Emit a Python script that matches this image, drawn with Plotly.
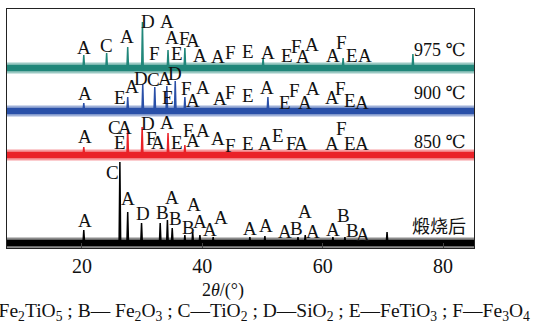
import plotly.graph_objects as go

# ---------------- data ----------------
x_range = [7.54, 85.15]
x_ticks = [20, 40, 60, 80]

series_names = ["975 ℃", "900 ℃", "850 ℃", "煅烧后"]

# peak positions (2θ, °) and peak heights above background (relative units)
peaks_975_pos = [20.3, 24.1, 27.6, 30.05, 34.3, 37.1, 50.1, 63.4, 75.0]
peaks_975_h = [13, 15, 21, 46, 18, 20, 10, 10, 14]

peaks_900_pos = [20.3, 27.6, 30.1, 32.1, 34.1, 35.5, 37.1, 50.9]
peaks_900_h = [8, 14, 27, 24, 25, 30, 14, 14]

peaks_850_pos = [20.3, 27.6, 30.0, 34.3, 37.1]
peaks_850_h = [8, 26, 28, 22, 10]

peaks_calc_pos = [20.3, 26.3, 27.6, 29.9, 33.0, 34.2, 35.0, 37.1, 38.4, 39.6,
                  41.8, 47.9, 50.4, 55.9, 57.1, 61.7, 63.7, 70.7]
peaks_calc_h = [13, 81, 31, 20, 20, 23, 15, 8, 11, 8,
                6, 6, 7, 6, 8, 6, 6, 11]

# phase labels: letter, 2θ, height level
lab_975_txt = ["A", "C", "A", "D", "A", "F", "A", "E", "F", "A", "A", "A", "F", "E", "A",
               "E", "F", "A", "A", "A", "F", "E", "A"]
lab_975_x = [20.33, 24.15, 27.48, 30.97, 34.13, 32.13, 34.96, 35.79, 37.12, 38.45, 39.61, 42.60, 44.60,
             47.59, 50.91, 54.07, 55.73, 56.73, 58.22, 61.71, 63.21, 64.87, 67.03]
lab_975_y = [201, 203, 212, 227, 227, 195, 211, 195, 210, 208, 193, 192, 196,
             197, 196, 193, 202, 192, 204, 193, 206, 193, 193]

lab_900_txt = ["A", "E", "A", "D", "C", "A", "D", "E", "F", "A", "A", "A", "F", "E", "A",
               "E", "F", "A", "A", "A", "F", "E", "A"]
lab_900_x = [20.5, 26.32, 28.31, 29.8, 31.95, 33.8, 35.4, 34.29, 37.45, 38.45, 40.11, 42.94, 44.60,
             47.59, 50.75, 53.74, 55.40, 57.06, 58.39, 61.55, 62.88, 64.54, 66.54]
lab_900_y = [155, 151, 162, 170, 169, 170, 175, 151, 160, 148, 161, 150, 156,
             153, 161, 146, 158, 146, 160, 151, 160, 148, 146]

lab_850_txt = ["A", "C", "A", "E", "D", "A", "F", "A", "E", "F", "A", "A", "A", "F", "E", "A",
               "E", "F", "A", "A", "F", "E", "A"]
lab_850_x = [20.5, 25.48, 27.15, 26.32, 30.97, 34.13, 31.63, 32.63, 35.79, 37.62, 38.45, 40.11, 42.60,
             44.60, 47.59, 50.41, 52.57, 54.90, 56.4, 61.55, 63.21, 64.54, 66.54]
lab_850_y = [112, 121, 121, 106, 125, 126, 110, 106, 106, 118, 108, 118, 110,
             103, 105, 105, 113, 105, 105, 105, 120, 105, 105]

lab_calc_txt = ["A", "C", "A", "D", "B", "A", "B", "B", "A", "A", "A", "A",
                "A", "A", "A", "B", "A", "A", "A", "B", "B", "A"]
lab_calc_x = [20.5, 24.99, 27.64, 30.14, 33.30, 34.96, 35.46, 37.62, 38.61, 39.61, 41.27, 43.10,
              47.92, 50.58, 53.74, 55.73, 57.06, 58.39, 61.71, 63.54, 65.04, 66.70]
lab_calc_y = [28, 76, 50, 35, 36, 51, 30, 21, 44, 27, 19, 31,
              20, 23, 17, 20, 37, 17, 19, 33, 18, 14]

# ---------------- styling ----------------
colors = ["#21877a", "#2a50a8", "#ea2228", "#000000"]
baselines = [180, 137, 93, 5]          # vertical offsets of the stacked patterns
name_label_y = [198, 155, 106, 23]
FONT = "Liberation Serif, DejaVu Serif, serif"
CJK_FONT = "Noto Sans CJK SC"

all_pos = [peaks_975_pos, peaks_900_pos, peaks_850_pos, peaks_calc_pos]
all_h = [peaks_975_h, peaks_900_h, peaks_850_h, peaks_calc_h]
all_lab = [(lab_975_txt, lab_975_x, lab_975_y), (lab_900_txt, lab_900_x, lab_900_y),
           (lab_850_txt, lab_850_x, lab_850_y), (lab_calc_txt, lab_calc_x, lab_calc_y)]

fig = go.Figure()
half_w = 0.13
for pos, hts, base, col in zip(all_pos, all_h, baselines, colors):
    # background band (noisy baseline)
    for hw, op in [(5.5, 0.45), (3.2, 1.0)]:
        fig.add_trace(go.Scatter(
            x=[x_range[0], x_range[1], x_range[1], x_range[0], x_range[0]],
            y=[base - hw, base - hw, base + hw, base + hw, base - hw],
            mode="lines", fill="toself", fillcolor=col, opacity=op,
            line=dict(width=0, color=col), hoverinfo="skip", showlegend=False))
    xs, ys = [x_range[0]], [base]
    for p, h in sorted(zip(pos, hts)):
        xs += [p - half_w, p, p + half_w]
        ys += [base, base + h, base]
    xs.append(x_range[1]); ys.append(base)
    fig.add_trace(go.Scatter(x=xs, y=ys, mode="lines",
                             line=dict(color=col, width=1.5), showlegend=False))

annotations = []
for txt, lx, ly in all_lab:
    for t, x, y in zip(txt, lx, ly):
        annotations.append(dict(x=x, y=y, xref="x", yref="y", text=t, showarrow=False,
                                font=dict(family=FONT, size=19, color="#111111"),
                                xanchor="center", yanchor="middle"))
for i, (name, y) in enumerate(zip(series_names, name_label_y)):
    fam = CJK_FONT if i == 3 else FONT
    annotations.append(dict(x=84.2, y=y, xref="x", yref="y", text=name, showarrow=False,
                            font=dict(family=fam, size=18, color="#111111"),
                            xanchor="right", yanchor="middle"))

# axis title and phase legend caption
annotations.append(dict(x=0.4625, y=-0.176, xref="paper", yref="paper", text="2<i>θ</i>/(°)",
                        showarrow=False, font=dict(family=FONT, size=18, color="#111111"),
                        xanchor="center", yanchor="middle"))
caption = ("A—Fe<sub>2</sub>TiO<sub>5</sub> ; B— Fe<sub>2</sub>O<sub>3</sub> ; "
           "C—TiO<sub>2</sub> ; D—SiO<sub>2</sub> ; E—FeTiO<sub>3</sub> ; F—Fe<sub>3</sub>O<sub>4</sub>")
annotations.append(dict(x=-0.0942, y=-0.266, xref="paper", yref="paper", text=caption,
                        showarrow=False, font=dict(family=FONT, size=19.5, color="#111111"),
                        xanchor="left", yanchor="middle"))

fig.update_layout(
    width=540, height=332,
    margin=dict(l=7, r=66, t=9, b=84),
    paper_bgcolor="white", plot_bgcolor="white",
    font=dict(family=FONT),
    annotations=annotations,
    xaxis=dict(range=x_range, tickvals=x_ticks, ticks="inside", ticklen=5,
               showline=True, linecolor="#222222", linewidth=1.2, mirror=True,
               showgrid=False, zeroline=False,
               tickfont=dict(family=FONT, size=20, color="#111111")),
    yaxis=dict(range=[0, 239], showticklabels=False, ticks="", showline=True,
               linecolor="#222222", linewidth=1.2, mirror=True,
               showgrid=False, zeroline=False),
)

fig.write_html("out.html", config={"displayModeBar": False},
               post_script="document.body.style.margin='0px';")
